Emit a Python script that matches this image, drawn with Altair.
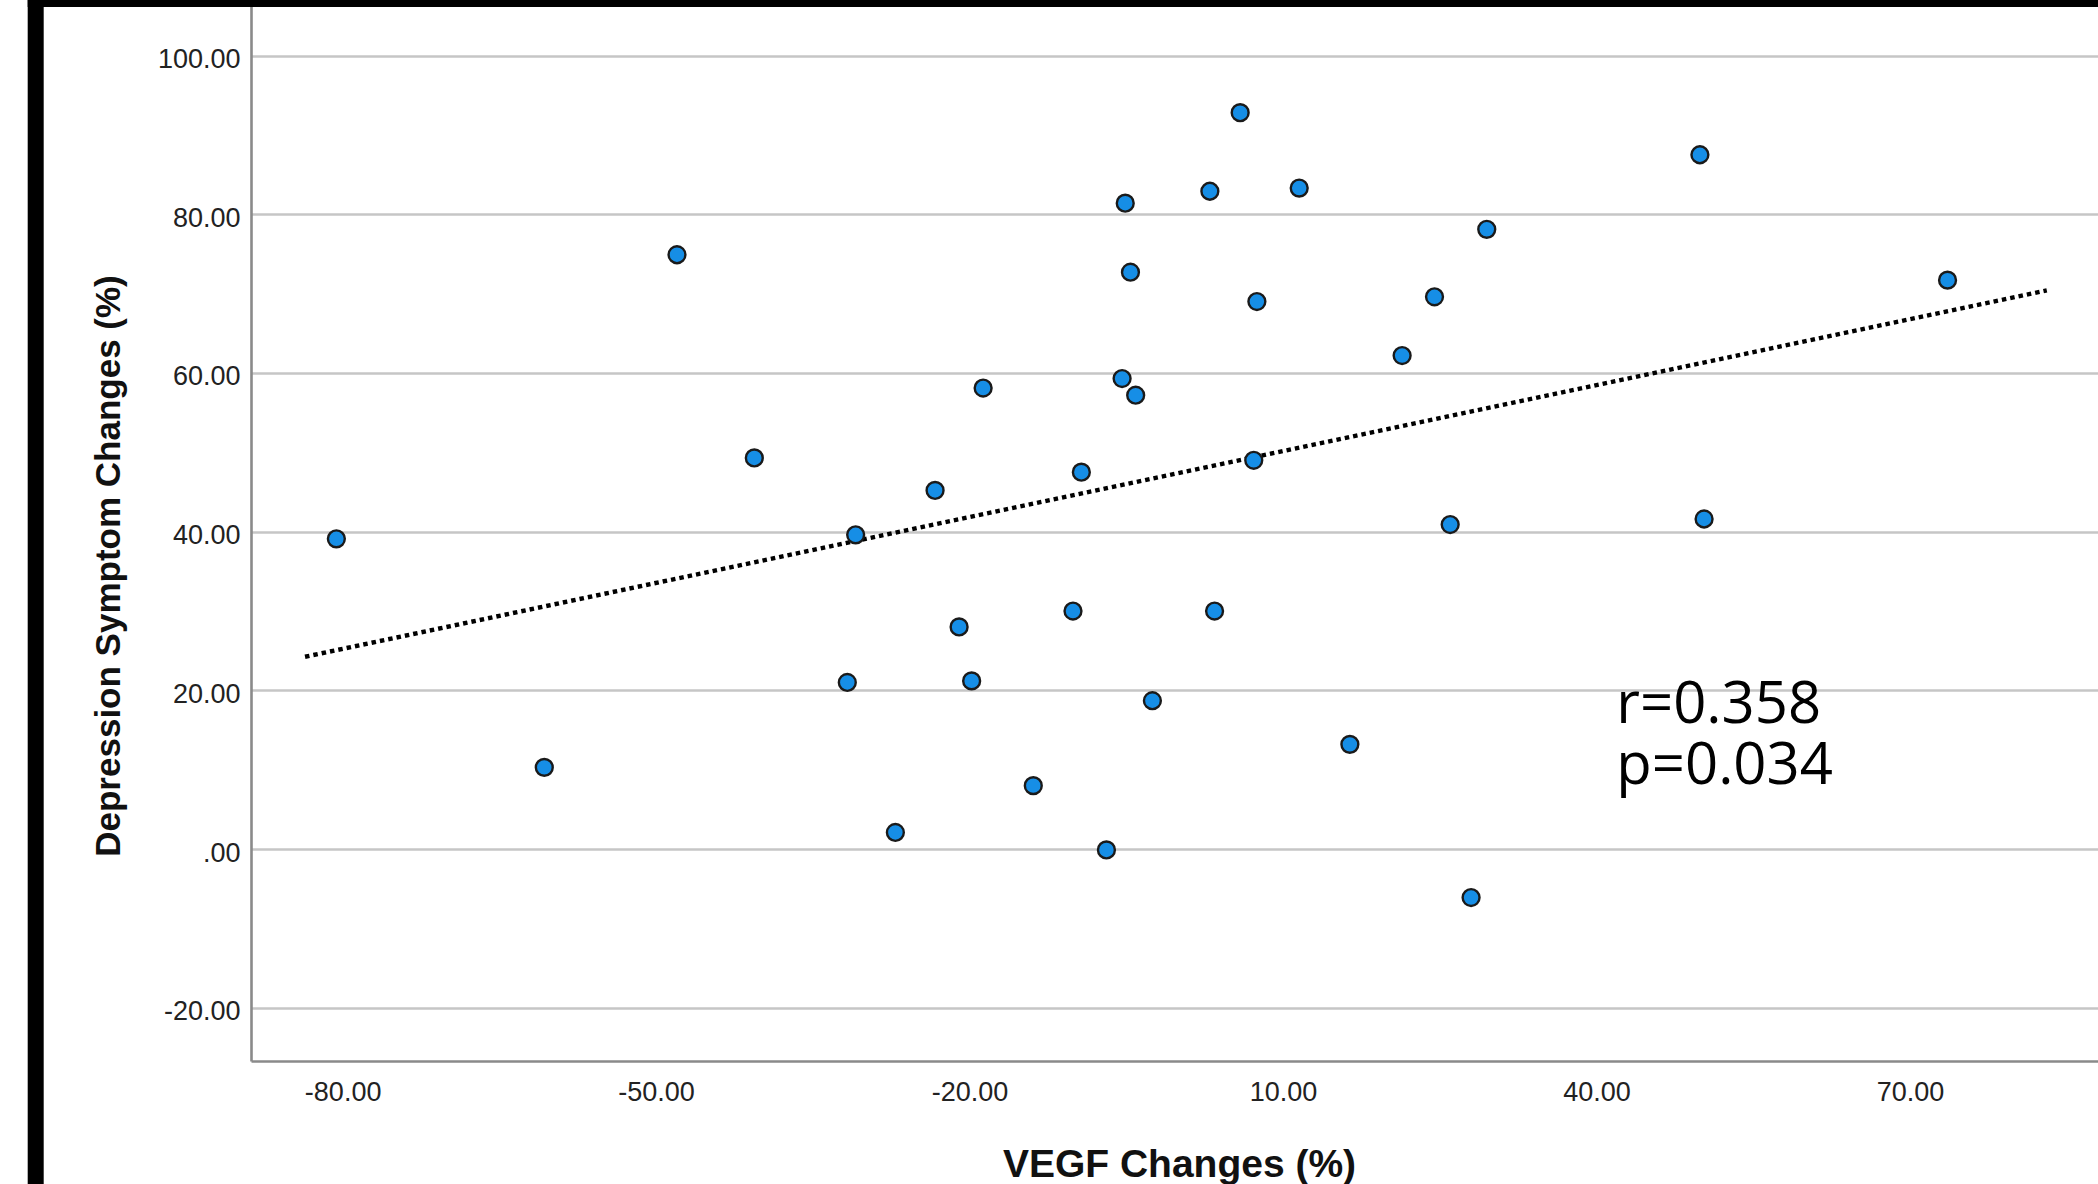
import altair as alt
import pandas as pd

# ---- data ----
vegf = [-80.6, -60.7, -48.0, -40.6, -30.9, -31.7, -27.1, -23.3, -21.0, -19.8,
        -18.7, -13.9, -10.1, -9.3, -6.9, -5.4, -5.1, -4.6, -4.1, -2.5,
        3.0, 3.45, 5.9, 7.2, 7.5, 11.55, 16.4, 21.4, 24.5, 26.0,
        28.0, 29.5, 49.9, 50.3, 73.6]
dep = [39.1, 10.3, 74.9, 49.3, 39.6, 21.0, 2.1, 45.2, 28.0, 21.2,
       58.1, 8.0, 30.0, 47.5, -0.1, 59.3, 81.4, 72.7, 57.2, 18.7,
       82.9, 30.0, 92.8, 49.0, 69.0, 83.3, 13.2, 62.2, 69.6, 40.9,
       -6.1, 78.1, 87.5, 41.6, 71.7]

x_ticks = [-80, -50, -20, 10, 40, 70]
y_ticks = [-20, 0, 20, 40, 60, 80, 100]

ann_text = ["r=0.358", "p=0.034"]
ann_x = 41.9
ann_y = 15.9

fit_extent = [-83.6, 83.1]

df = pd.DataFrame({"vegf": vegf, "dep": dep})
ann = pd.DataFrame({"vegf": [ann_x], "dep": [ann_y], "t": ["\n".join(ann_text)]})
one = pd.DataFrame({"k": [0]})

W, H = 1847, 1061
LEFT, BOTTOM = 251, 123

xscale = alt.Scale(domain=[-88.77, 88.0], nice=False, zero=False)
yscale = alt.Scale(domain=[-26.7, 107.0], nice=False, zero=False)

label_expr = "datum.value === 0 ? '.00' : datum.value + '.00'"

x_axis = alt.Axis(
    values=x_ticks, title="VEGF Changes (%)", grid=False, ticks=False,
    labelExpr=label_expr, labelFont="Liberation Sans", labelFontSize=27,
    labelColor="#222222", labelPadding=18, labelOverlap=False, labelFlush=False,
    domainColor="#8a8a8a", domainWidth=2.6,
    titleFont="Liberation Sans", titleFontSize=39, titleFontWeight="bold",
    titleColor="#111111", titleX=928, titleY=115.7, titleBaseline="alphabetic",
    titleAlign="center",
)
y_axis = alt.Axis(
    values=y_ticks, title="Depression Symptom Changes (%)", grid=True,
    gridColor="#c6c6c6", gridWidth=2.5, ticks=False,
    labelExpr=label_expr, labelFont="Liberation Sans", labelFontSize=27,
    labelColor="#222222", labelPadding=11, labelOffset=4, labelOverlap=False,
    labelFlush=False, labelBaseline="middle",
    domainColor="#8a8a8a", domainWidth=2.6,
    titleFont="Liberation Sans", titleFontSize=35, titleFontWeight="bold",
    titleColor="#111111", titleAngle=270, titleX=-132, titleY=565.5,
    titleBaseline="alphabetic", titleAlign="center",
)

X = alt.X("vegf:Q", scale=xscale, axis=x_axis)
Y = alt.Y("dep:Q", scale=yscale, axis=y_axis)

fit = alt.Chart(df).transform_regression(
    "vegf", "dep", extent=fit_extent
).mark_line(color="black", strokeWidth=4.5, strokeDash=[4.5, 4]).encode(x=X, y=Y)

pts = alt.Chart(df).mark_point(
    shape="circle", filled=True, size=285, fill="#168ee6",
    stroke="#1a1a1a", strokeWidth=2.4, opacity=1,
).encode(x=X, y=Y)

txt = alt.Chart(ann).mark_text(
    align="left", baseline="alphabetic", font="Open Sans", fontSize=58,
    color="black", lineBreak="\n", lineHeight=61,
).encode(x=X, y=Y, text="t:N")

frame_left = alt.Chart(one).mark_rect(color="black").encode(
    x=alt.value(-223.3), x2=alt.value(-207.3),
    y=alt.value(0), y2=alt.value(H + BOTTOM),
)
frame_top = alt.Chart(one).mark_rect(color="black").encode(
    x=alt.value(-223.3), x2=alt.value(W),
    y=alt.value(0), y2=alt.value(7),
)

chart = alt.layer(fit, pts, txt, frame_left, frame_top).properties(
    width=W, height=H,
    padding={"left": LEFT, "top": 0, "right": 0, "bottom": BOTTOM},
    autosize=alt.AutoSizeParams(type="none"),
    background="white",
).configure_view(stroke=None)

chart.save("out.html", embed_options={"renderer": "svg", "actions": False})
